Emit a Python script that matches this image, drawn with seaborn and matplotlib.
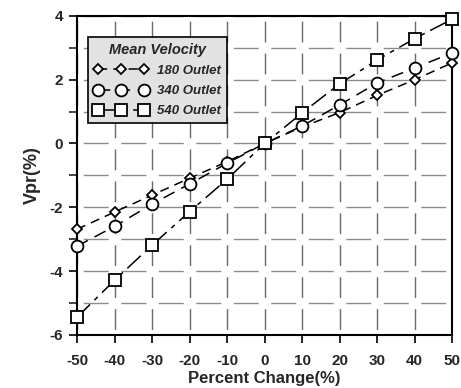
import matplotlib
matplotlib.use("Agg")
import matplotlib.pyplot as plt
import seaborn as sns
import pandas as pd
from matplotlib.ticker import MultipleLocator

pct = [-50, -40, -30, -20, -10, 0, 10, 20, 30, 40, 50]
v180 = [-2.69, -2.15, -1.62, -1.09, -0.57, 0.0, 0.52, 0.97, 1.51, 2.0, 2.53]
v340 = [-3.22, -2.6, -1.9, -1.27, -0.62, 0.0, 0.55, 1.21, 1.9, 2.37, 2.84]
v540 = [-5.45, -4.29, -3.19, -2.14, -1.12, 0.0, 0.96, 1.87, 2.62, 3.29, 3.9]
labels = ["180 Outlet", "340 Outlet", "540 Outlet"]
legend_title = "Mean Velocity"

sns.set_style("white")
plt.rcParams['font.family'] = ['Liberation Sans', 'DejaVu Sans']
plt.rcParams['axes.unicode_minus'] = False

fig = plt.figure(figsize=(4.61, 3.88), dpi=100)
ax = fig.add_axes([0.167, 0.137, 0.814, 0.822])

styles = [
    dict(marker="D", markersize=5.5, dashes=(6, 4)),
    dict(marker="o", markersize=8.5, dashes=(8, 5)),
    dict(marker="s", markersize=8.5, dashes=(12, 4, 3, 4)),
]
for vals, lab, st in zip([v180, v340, v540], labels, styles):
    df = pd.DataFrame({"x": pct, "y": vals})
    sns.lineplot(data=df, x="x", y="y", ax=ax, color="black", linewidth=1.1,
                 marker=st["marker"], markersize=st["markersize"],
                 markerfacecolor="white", markeredgecolor="black",
                 markeredgewidth=1.3, label=lab, clip_on=False, zorder=3)
    ax.lines[-1].set_dashes(st["dashes"])

ax.set_xlim(-50, 50)
ax.set_ylim(-6, 4)
ax.xaxis.set_major_locator(MultipleLocator(10))
ax.yaxis.set_major_locator(MultipleLocator(2))
ax.yaxis.set_minor_locator(MultipleLocator(1))
ax.grid(True, which="both", axis="y", color="#8c8c8c",
        linestyle=(22.5, (18, 9)), linewidth=1.0)
ax.grid(True, which="major", axis="x", color="#6a6a6a",
        linestyle=(19.0, (15, 8)), linewidth=1.0)
ax.set_axisbelow(True)

for s in ax.spines.values():
    s.set_color("black")
    s.set_linewidth(1.5)

ax.tick_params(axis="both", which="major", direction="out", length=6, width=1.2,
               labelsize=11, color="black", pad=4)
ax.tick_params(axis="y", which="minor", direction="out", length=6, width=1.2, left=True)
ax.tick_params(axis="x", which="major", bottom=True, pad=8)
ax.tick_params(axis="y", which="major", left=True)
for lab in ax.get_xticklabels() + ax.get_yticklabels():
    lab.set_fontweight("bold")

ax.set_xlabel("Percent Change(%)", fontsize=12, fontweight="bold", labelpad=2)
ax.set_ylabel("Vpr(%)", fontsize=13, fontweight="bold", labelpad=6)

leg = ax.legend(title=legend_title, loc="upper left", bbox_to_anchor=(0.029, 0.934),
                numpoints=3, handlelength=4.1, frameon=True, fancybox=False,
                edgecolor="black", facecolor="#e2e2e2", framealpha=1.0,
                prop={"weight": "bold", "style": "italic", "size": 9.5},
                borderpad=0.45, labelspacing=0.6, handletextpad=0.7, borderaxespad=0)
leg.get_title().set_fontweight("bold")
leg.get_title().set_fontstyle("italic")
leg.get_title().set_fontsize(10.5)
leg.get_frame().set_linewidth(1.2)

fig.savefig("out.png", dpi=100)
